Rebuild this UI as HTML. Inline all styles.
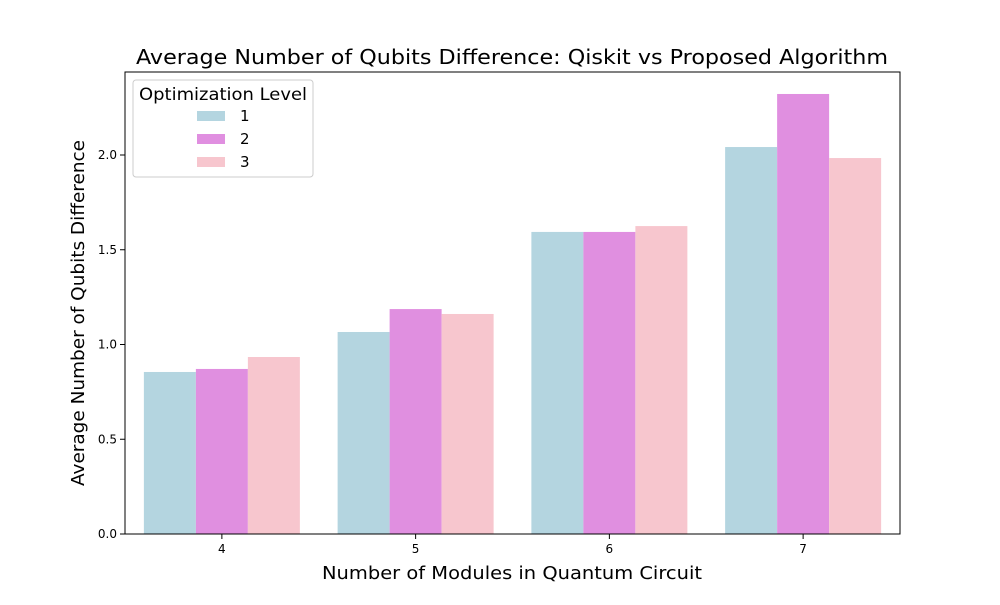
<!DOCTYPE html>
<html><head><meta charset="utf-8"><style>
body{margin:0;background:#fff;font-family:"Liberation Sans","DejaVu Sans",sans-serif;}
</style></head><body>
<svg id="chart" width="1000" height="600" xmlns="http://www.w3.org/2000/svg" font-family="DejaVu Sans, Liberation Sans, sans-serif">
<rect width="1000" height="600" fill="#fff"/>
<text x="512" y="64" text-anchor="middle" font-size="20" textLength="752" lengthAdjust="spacingAndGlyphs">Average Number of Qubits Difference: Qiskit vs Proposed Algorithm</text>
<g id="bars"></g>
<g id="axes"></g>
<rect x="125" y="72" width="775" height="462" fill="none" stroke="#000" stroke-width="1"/>
<text x="512" y="579" text-anchor="middle" font-size="18" textLength="380" lengthAdjust="spacingAndGlyphs">Number of Modules in Quantum Circuit</text>
<text transform="translate(84,313) rotate(-90)" text-anchor="middle" font-size="18" textLength="346" lengthAdjust="spacingAndGlyphs">Average Number of Qubits Difference</text>
<g>
<rect x="133" y="80" width="180" height="97" rx="3" fill="#fff" fill-opacity="0.8" stroke="#ccc"/>
<text x="223" y="100" text-anchor="middle" font-size="17" textLength="168" lengthAdjust="spacingAndGlyphs">Optimization Level</text>
<g id="legend-items"></g>
</g>
</svg>
<script>
const categories=["4","5","6","7"];
const series1=[0.855,1.066,1.594,2.042];
const series2=[0.871,1.187,1.594,2.322];
const series3=[0.934,1.161,1.625,1.984];
const seriesNames=["1","2","3"];
const yTicks=[0.0,0.5,1.0,1.5,2.0];
const colors=["#b4d5e0","#e08fe0","#f7c6ce"];
const NS="http://www.w3.org/2000/svg";
const x0=125,x1=900,y0=534,yTop=72,yMax=2.438;
const y=v=>y0-(v/yMax)*(y0-yTop);
const band=(x1-x0)/categories.length;
const bw=52;
const bars=document.getElementById('bars'),axes=document.getElementById('axes');
function mk(t,a,p){const e=document.createElementNS(NS,t);for(const k in a)e.setAttribute(k,a[k]);p.appendChild(e);return e;}
[series1,series2,series3].forEach((s,si)=>{s.forEach((v,i)=>{const cx=x0+band*(i+0.5);
const r=mk('rect',{x:cx-1.5*bw+si*bw,y:y(v),width:bw,height:y0-y(v),fill:colors[si]},bars);

});});
categories.forEach((c,i)=>{const cx=x0+band*(i+0.5);
mk('line',{x1:cx,x2:cx,y1:y0,y2:y0+5,stroke:'#000'},axes);
const t=mk('text',{x:cx,y:y0+19,'text-anchor':'middle','font-size':12},axes);t.textContent=c;

});
yTicks.forEach(v=>{mk('line',{x1:x0-5,x2:x0,y1:y(v),y2:y(v),stroke:'#000'},axes);
const t=mk('text',{x:x0-8,y:y(v)+4,'text-anchor':'end','font-size':12},axes);t.textContent=v.toFixed(1);

});
const li=document.getElementById('legend-items');
seriesNames.forEach((n,i)=>{const yy=111+i*23;
const r=mk('rect',{x:197,y:yy,width:28,height:10,fill:colors[i]},li);


const t=mk('text',{x:240,y:yy+10,'font-size':15},li);t.textContent=n;

});
</script>
</body></html>
